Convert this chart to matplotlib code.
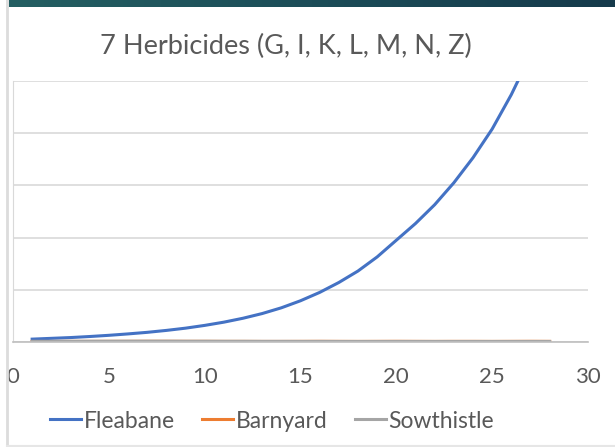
import matplotlib.pyplot as plt
import numpy as np
from matplotlib.lines import Line2D
from matplotlib.colors import LinearSegmentedColormap

plt.rcParams['font.family'] = ['Lato', 'DejaVu Sans']

# data (y in gridline units, axis labels are cropped in the reference)
days = list(range(1, 29))
fleabane = [0.055, 0.07, 0.085, 0.105, 0.128, 0.155, 0.185, 0.222, 0.265, 0.318,
            0.38, 0.455, 0.545, 0.655, 0.79, 0.95, 1.14, 1.36, 1.63, 1.95,
            2.27, 2.63, 3.05, 3.53, 4.08, 4.74, 5.5, 6.4]
barnyard = [0.01, 0.01, 0.012, 0.012, 0.013, 0.013, 0.014, 0.014, 0.013, 0.013,
            0.012, 0.012, 0.011, 0.011, 0.012, 0.013, 0.012, 0.011, 0.012, 0.013,
            0.012, 0.011, 0.012, 0.012, 0.011, 0.012, 0.013, 0.012]
sowthistle = [0.012, 0.013, 0.013, 0.014, 0.014, 0.015, 0.015, 0.015, 0.014, 0.014,
              0.013, 0.013, 0.012, 0.012, 0.011, 0.011, 0.010, 0.010, 0.010, 0.010,
              0.010, 0.010, 0.010, 0.010, 0.010, 0.010, 0.010, 0.010]
title = '7 Herbicides (G, I, K, L, M, N, Z)'
xticks = [0, 5, 10, 15, 20, 25, 30]

txt = '#595959'
fig = plt.figure(figsize=(6.15, 4.47), dpi=100)

# dark header strip and left / bottom border of the screenshot
band = fig.add_axes([9 / 615, 1 - 7 / 447, 1 - 9 / 615, 7 / 447])
grad = np.linspace(0, 1, 256).reshape(1, -1)
cmap = LinearSegmentedColormap.from_list('band', ['#245f62', '#1c4d58', '#153a4b'])
band.imshow(grad, aspect='auto', cmap=cmap)
band.axis('off')
fig.add_artist(Line2D([7 / 615, 7 / 615], [0, 1], color='#dcdcdc', lw=2))
fig.add_artist(Line2D([7 / 615, 1], [1.5 / 447, 1.5 / 447], color='#e6e6e6', lw=1.5))

ax = fig.add_axes([13 / 615, 1 - 342 / 447, 575 / 615, 261 / 447])
ax.plot(days, fleabane, color='#4472C4', lw=2.2, label='Fleabane', solid_joinstyle='round')
ax.plot(days, barnyard, color='#ED7D31', lw=2.2, label='Barnyard')
ax.plot(days, sowthistle, color='#A5A5A5', lw=2.2, label='Sowthistle')

ax.set_xlim(0, 30)
ax.set_ylim(0, 5)
ax.set_xticks(xticks)
ax.set_yticks([0, 1, 2, 3, 4, 5])
ax.set_yticklabels([])
ax.tick_params(axis='x', length=0, pad=18, labelsize=16, labelcolor=txt)
ax.tick_params(axis='y', length=0)
ax.grid(axis='y', color='#d9d9d9', lw=1.2)
ax.set_axisbelow(True)
for s in ['top', 'right']:
    ax.spines[s].set_visible(False)
ax.spines['left'].set_color('#d9d9d9')
ax.spines['bottom'].set_color('#bfbfbf')
ax.spines['bottom'].set_linewidth(1.2)

fig.text(286 / 615, 1 - 46 / 447, title, ha='center', va='center', fontsize=19.5, color=txt)

fig.legend(loc='center', bbox_to_anchor=(272 / 615, 1 - 421 / 447), ncol=3, frameon=False,
           fontsize=16.5, labelcolor=txt, handlelength=1.35, handletextpad=0.12, columnspacing=1.2)

fig.savefig('out.png', dpi=100)
